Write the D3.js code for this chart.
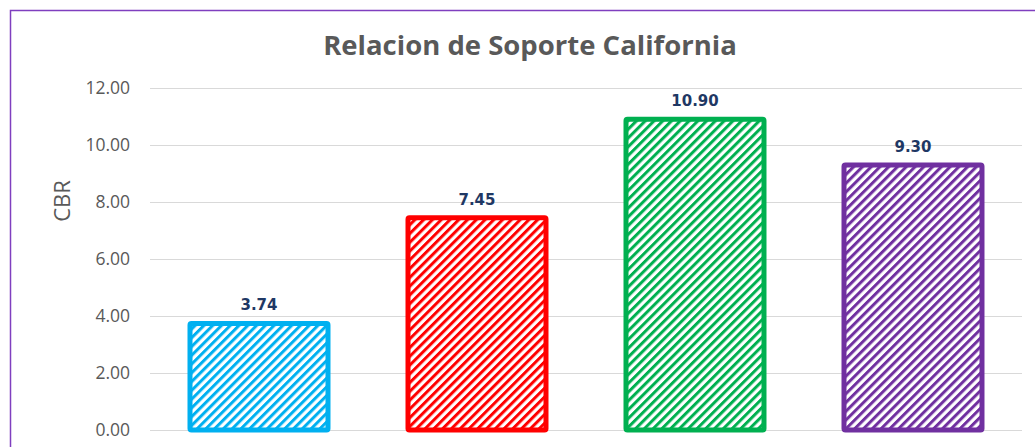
<!DOCTYPE html>
<html>
<head>
<meta charset="utf-8">
<script src="https://cdn.jsdelivr.net/npm/d3@7"></script>
<style>
  body { margin: 0; background: #fff; }
  svg { display: block; }
</style>
</head>
<body>
<div id="chart"></div>
<script>
// chart data
const categories = ['A', 'B', 'C', 'D'];
const cbrValues = [3.74, 7.45, 10.90, 9.30];
const barColors = ['#00B0F0', '#FF0000', '#00B050', '#7030A0'];
const yTicks = [0, 2, 4, 6, 8, 10, 12];

const canvWidth = 1035, canvHeight = 447;
const margin = {top: 88, right: 13, bottom: 17, left: 150};
const width = canvWidth - margin.left - margin.right;
const height = canvHeight - margin.top - margin.bottom;

const svg = d3.select('#chart')
    .append('svg')
    .attr('width', canvWidth)
    .attr('height', canvHeight);

// hatch patterns (wide upward diagonal)
const defs = svg.append('defs');
barColors.forEach((c, i) => {
    const p = defs.append('pattern')
        .attr('id', 'hatch' + i)
        .attr('patternUnits', 'userSpaceOnUse')
        .attr('width', 6.2)
        .attr('height', 6.2)
        .attr('patternTransform', 'rotate(45)');
    p.append('rect').attr('width', 6.2).attr('height', 6.2).attr('fill', '#fff');
    p.append('rect').attr('width', 3).attr('height', 6.2).attr('fill', c);
});

// outer frame
svg.append('rect')
    .attr('x', 10.5).attr('y', 10.5)
    .attr('width', canvWidth + 20).attr('height', canvHeight + 20)
    .attr('fill', 'none')
    .attr('stroke', '#7F3FBF')
    .attr('stroke-width', 1.5);

// title
svg.append('text')
    .attr('x', 530)
    .attr('y', 55)
    .attr('text-anchor', 'middle')
    .attr('font-family', 'Open Sans, sans-serif')
    .attr('font-weight', 'bold')
    .attr('font-size', 27.5)
    .attr('fill', '#595959')
    .text('Relacion de Soporte California');

const g = svg.append('g')
    .attr('transform', `translate(${margin.left},${margin.top})`);

const x = d3.scaleBand()
    .domain(categories)
    .range([0, width])
    .paddingInner(0.367)
    .paddingOuter(0.1835);

const y = d3.scaleLinear()
    .domain([0, 12])
    .range([height, 0]);

// gridlines
g.append('g')
    .selectAll('line')
    .data(yTicks)
    .join('line')
    .attr('x1', 0).attr('x2', width)
    .attr('y1', d => Math.round(y(d)) + 0.5)
    .attr('y2', d => Math.round(y(d)) + 0.5)
    .attr('stroke', '#D9D9D9')
    .attr('stroke-width', 1.2);

// y axis labels
const yAxis = g.append('g')
    .call(d3.axisLeft(y).tickValues(yTicks).tickFormat(d3.format('.2f')).tickSize(0).tickPadding(20));
yAxis.select('.domain').remove();
yAxis.selectAll('text')
    .attr('font-family', 'Open Sans, sans-serif')
    .attr('font-size', 17.5)
    .attr('fill', '#595959');

// y axis title
svg.append('text')
    .attr('transform', 'rotate(-90)')
    .attr('x', -201)
    .attr('y', 70)
    .attr('text-anchor', 'middle')
    .attr('font-family', 'Open Sans, sans-serif')
    .attr('font-size', 22)
    .attr('fill', '#595959')
    .text('CBR');

// bars
g.selectAll('.bar')
    .data(cbrValues)
    .join('rect')
    .attr('class', 'bar')
    .attr('x', (d, i) => x(categories[i]))
    .attr('y', d => y(d))
    .attr('width', x.bandwidth())
    .attr('height', d => height - y(d))
    .attr('rx', 1.5)
    .attr('fill', (d, i) => `url(#hatch${i})`)
    .attr('stroke', (d, i) => barColors[i])
    .attr('stroke-width', 5);

// data labels
g.selectAll('.label')
    .data(cbrValues)
    .join('text')
    .attr('class', 'label')
    .attr('x', (d, i) => x(categories[i]) + x.bandwidth() / 2)
    .attr('y', d => y(d) - 13)
    .attr('text-anchor', 'middle')
    .attr('font-family', 'DejaVu Sans, sans-serif')
    .attr('font-weight', 'bold')
    .attr('font-size', 15)
    .attr('fill', '#1F3864')
    .text(d => d3.format('.2f')(d));
</script>
</body>
</html>
